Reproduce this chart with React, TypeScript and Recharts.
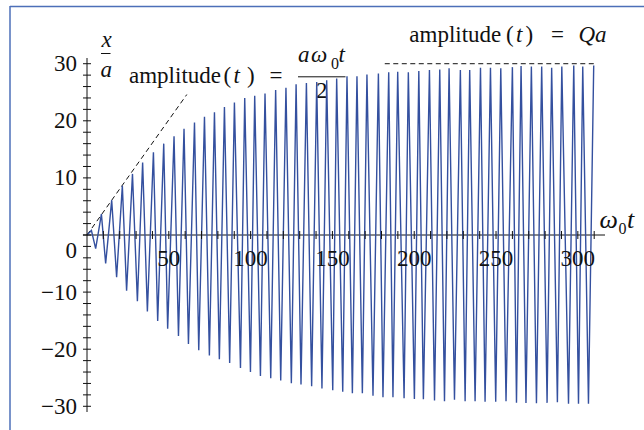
import React from 'react'
import { LineChart, Line, XAxis, YAxis, ReferenceLine } from 'recharts'

// x/a against ω0 t, maxima and minima
const peakT = [2.7, 8.8, 15.1, 21.6, 27.8, 34.0, 40.6, 46.9, 53.2, 59.3, 65.7, 71.8, 77.9, 84.0, 90.1, 96.4, 102.5, 108.8, 115.3, 121.6, 127.8, 134.1, 140.4, 146.5, 152.6, 158.9, 165.0, 171.1, 178.1, 184.4, 189.9, 196.4, 202.8, 209.3, 215.6, 221.3, 228.2, 233.9, 240.5, 246.6, 252.9, 260.0, 265.3, 271.6, 277.9, 284.0, 290.2, 297.5, 303.0, 309.7]
const peakV = [0.79, 3.65, 6.1, 8.6, 10.7, 12.7, 14.5, 16.0, 17.3, 18.6, 19.7, 20.7, 21.5, 22.4, 23.2, 24.0, 24.4, 24.8, 25.4, 25.8, 26.4, 26.6, 26.8, 27.1, 27.4, 27.8, 27.8, 28.1, 28.3, 28.5, 28.6, 28.5, 28.7, 28.9, 29.0, 29.2, 28.9, 28.9, 29.3, 29.3, 29.2, 29.4, 29.6, 29.5, 29.5, 29.3, 29.5, 29.7, 29.5, 29.7]
const troughT = [5.3, 11.4, 18.1, 24.2, 30.8, 36.9, 43.2, 49.3, 55.9, 62.0, 68.3, 74.8, 80.9, 87.2, 93.8, 99.9, 106.0, 112.3, 118.4, 124.9, 130.8, 137.3, 143.6, 150.2, 156.3, 162.2, 168.3, 174.8, 180.9, 187.0, 193.8, 200.1, 205.6, 212.4, 218.5, 224.6, 231.1, 237.2, 243.3, 249.8, 256.1, 262.5, 268.3, 274.7, 281.2, 287.5, 294.3, 300.4, 306.5]
const troughV = [-2.4, -5.0, -7.4, -9.75, -11.6, -13.4, -15.05, -16.4, -17.7, -19.1, -20.2, -21.1, -21.75, -22.4, -23.3, -24.0, -24.7, -25.1, -25.5, -25.95, -26.2, -26.5, -26.9, -27.2, -27.45, -27.7, -27.7, -28.15, -28.4, -28.4, -28.6, -28.7, -28.75, -29.0, -29.1, -28.85, -29.1, -29.1, -29.2, -29.2, -29.1, -29.4, -29.4, -29.45, -29.4, -29.3, -29.55, -29.55, -29.55]

// dashed guides: early growth a ω0 t / 2 and the saturation level Qa
const growthT = [0, 61]
const growthV = [0, 24.6]
const saturationT = [182, 310]
const saturationV = 30

const xTicks = [10, 20, 30, 40, 50, 60, 70, 80, 90, 100, 110, 120, 130, 140, 150, 160, 170, 180, 190, 200, 210, 220, 230, 240, 250, 260, 270, 280, 290, 300, 310]
const yTicks = [-30, -28, -26, -24, -22, -20, -18, -16, -14, -12, -10, -8, -6, -4, -2, 0, 2, 4, 6, 8, 10, 12, 14, 16, 18, 20, 22, 24, 26, 28, 30]

const data: { t: number; v: number }[] = [{ t: 0, v: 0 }]
peakT.forEach((t, i) => {
  data.push({ t, v: peakV[i] })
  if (i < troughT.length) data.push({ t: troughT[i], v: troughV[i] })
})

const W = 644
const H = 430
const TOP = 58
const XAXIS_H = 18
const PLOT_H = H - TOP - XAXIS_H
const Y0 = TOP + PLOT_H / 2 // y domain is symmetric
const SERIF = 'Liberation Serif, DejaVu Serif, serif'
const INK = '#111'
const FS = 23

function XTick(props: any) {
  const { x, payload } = props
  const v = payload.value
  const major = v % 50 === 0
  return (
    <g>
      <line x1={x} x2={x} y1={Y0 - 4} y2={Y0 + 4} stroke={INK} strokeWidth={1} />
      {major && (
        <text x={x} y={Y0 + 30.5} textAnchor="middle" style={{ fontSize: FS, fontFamily: SERIF }} fill={INK}>
          {v}
        </text>
      )}
    </g>
  )
}

function YTick(props: any) {
  const { x, y, payload } = props
  const v = payload.value
  const major = v % 10 === 0
  return (
    <g>
      <line x1={x - 4} x2={x + 4} y1={y} y2={y} stroke={INK} strokeWidth={1} />
      {major && (
        <text x={x - 10} y={v === 0 ? y + 23 : y + 7.5} textAnchor="end" style={{ fontSize: FS, fontFamily: SERIF }} fill={INK}>
          {v < 0 ? '\u2212' + -v : v}
        </text>
      )}
    </g>
  )
}

function Annotations() {
  const t = { style: { fontSize: FS, fontFamily: SERIF }, fill: INK }
  const it = { style: { fontSize: FS, fontFamily: SERIF, fontStyle: 'italic' as const }, fill: INK }
  const big = { style: { fontSize: 26, fontFamily: SERIF, fontStyle: 'italic' as const }, fill: INK }
  const sub = { style: { fontSize: 16, fontFamily: SERIF }, fill: INK }
  return (
    <svg width={W} height={H} style={{ position: 'absolute', left: 0, top: 0 }}>
      <line x1={10} x2={10} y1={6} y2={H} stroke="#4d6fb8" strokeWidth={1.5} />
      <line x1={10} x2={W} y1={6.5} y2={6.5} stroke="#4d6fb8" strokeWidth={1.5} />

      {/* x/a */}
      <text x={101.5} y={46.5} {...it}>x</text>
      <line x1={101} x2={110.5} y1={53.5} y2={53.5} stroke={INK} strokeWidth={1} />
      <text x={100.5} y={76.7} {...it}>a</text>

      {/* amplitude(t) = a ω0 t / 2 */}
      <text x={129} y={83} {...t}>amplitude</text>
      <text x={223.5} y={83} {...t}>(</text>
      <text x={233.5} y={83} {...it}>t</text>
      <text x={247} y={83} {...t}>)</text>
      <text x={269.5} y={83} {...t}>=</text>
      <text x={298} y={61.7} {...it}>a</text>
      <text x={311} y={61.7} {...it}>ω</text>
      <text x={331} y={69} {...sub}>0</text>
      <text x={338.5} y={61.7} {...it}>t</text>
      <line x1={298} x2={345.5} y1={76.8} y2={76.8} stroke={INK} strokeWidth={1} />
      <text x={316} y={98} {...t}>2</text>

      {/* amplitude(t) = Qa */}
      <text x={409.3} y={41.5} {...t}>amplitude</text>
      <text x={506} y={41.5} {...t}>(</text>
      <text x={516} y={41.5} {...it}>t</text>
      <text x={525.5} y={41.5} {...t}>)</text>
      <text x={551} y={41.5} {...t}>=</text>
      <text x={578.5} y={41.5} {...it}>Qa</text>

      {/* ω0 t */}
      <text x={599.5} y={228} {...big}>ω</text>
      <text x={618.5} y={234} {...sub}>0</text>
      <text x={627} y={228} {...big}>t</text>
    </svg>
  )
}

export default function App() {
  return (
    <div style={{ position: 'absolute', left: 0, top: 0, width: W, height: H, background: '#fff' }}>
      <Annotations />
      <div style={{ position: 'absolute', left: 0, top: 0 }}>
        <LineChart width={W} height={H} data={data} margin={{ top: TOP, right: 39, bottom: 0, left: 0 }}>
          <XAxis
            type="number"
            dataKey="t"
            domain={[0, 316.6]}
            ticks={xTicks}
            interval={0}
            height={XAXIS_H}
            axisLine={false}
            tickLine={false}
            tick={(p: any) => <XTick {...p} />}
            allowDataOverflow
          />
          <YAxis
            type="number"
            domain={[-31, 31]}
            ticks={yTicks}
            interval={0}
            width={87}
            axisLine={{ stroke: INK, strokeWidth: 1 }}
            tickLine={false}
            tickSize={0}
            tickMargin={0}
            tick={(p: any) => <YTick {...p} />}
            allowDataOverflow
          />
          <ReferenceLine
            segment={[{ x: -2.5, y: 0 }, { x: 316.6, y: 0 }]}
            stroke={INK}
            strokeWidth={1}
            ifOverflow="visible"
          />
          <ReferenceLine
            segment={[{ x: growthT[0], y: growthV[0] }, { x: growthT[1], y: growthV[1] }]}
            stroke={INK}
            strokeWidth={1}
            strokeDasharray="5 3.5"
            ifOverflow="visible"
          />
          <ReferenceLine
            segment={[{ x: saturationT[0], y: saturationV }, { x: saturationT[1], y: saturationV }]}
            stroke={INK}
            strokeWidth={1}
            strokeDasharray="5 3.5"
            ifOverflow="visible"
          />
          <Line
            type="linear"
            dataKey="v"
            stroke="#34509f"
            strokeWidth={1.4}
            dot={false}
            isAnimationActive={false}
          />
        </LineChart>
      </div>
    </div>
  )
}
